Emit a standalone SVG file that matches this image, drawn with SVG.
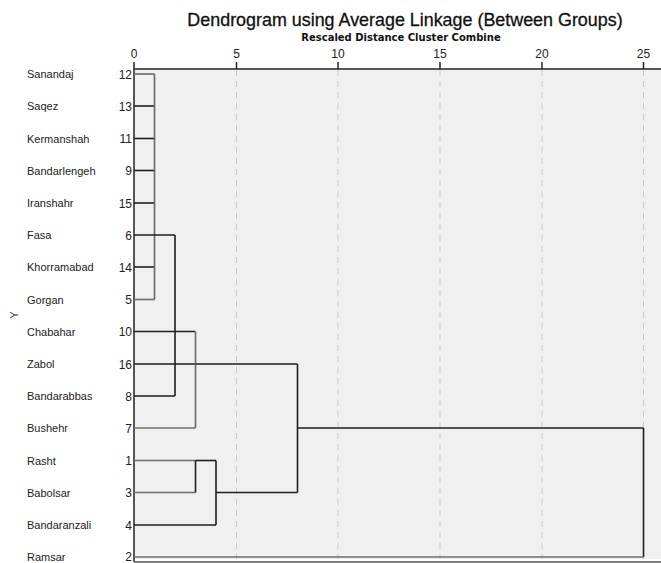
<svg xmlns="http://www.w3.org/2000/svg" width="661" height="563" viewBox="0 0 661 563">
<style>
.title{font-family:"Liberation Sans",Arial,sans-serif;font-size:17.9px;fill:#111;stroke:#111;stroke-width:0.3;text-anchor:middle}
.sub{font-family:"DejaVu Sans",Verdana,sans-serif;font-size:10px;font-weight:bold;fill:#111;text-anchor:middle}
.tick{font-family:"Liberation Sans",Arial,sans-serif;font-size:12px;fill:#222;text-anchor:middle}
.name{font-family:"Liberation Sans",Arial,sans-serif;font-size:11px;fill:#222}
.num{font-family:"Liberation Sans",Arial,sans-serif;font-size:12px;fill:#222;text-anchor:end}
.grid{stroke:#c8c8c8;stroke-width:1;stroke-dasharray:6 5;fill:none}
.axis{stroke:#222;stroke-width:1.5;fill:none}
.d{stroke:#1e1e1e;stroke-width:1.6;fill:none}
.g{stroke:#6e6e6e;stroke-width:1.7;fill:none}
</style>
<rect width="661" height="563" fill="#ffffff"/>
<rect x="134" y="69" width="527" height="490" fill="#f0f0f0"/>
<g id="title">
<text class="title" x="405" y="25.5">Dendrogram using Average Linkage (Between Groups)</text>
<text class="sub" x="401" y="41">Rescaled Distance Cluster Combine</text>
</g>
<g id="grid">
<line class="grid" x1="236.5" y1="70" x2="236.5" y2="559"/>
<line class="grid" x1="338" y1="70" x2="338" y2="559"/>
<line class="grid" x1="440" y1="70" x2="440" y2="559"/>
<line class="grid" x1="542" y1="70" x2="542" y2="559"/>
<line class="grid" x1="643.5" y1="70" x2="643.5" y2="559"/>
</g>
<g id="axis">
<line class="axis" x1="134" y1="69" x2="661" y2="69"/>
<line class="axis" x1="134" y1="62" x2="134" y2="562"/>
<line class="axis" x1="236.5" y1="62" x2="236.5" y2="69"/>
<line class="axis" x1="338" y1="62" x2="338" y2="69"/>
<line class="axis" x1="440" y1="62" x2="440" y2="69"/>
<line class="axis" x1="542" y1="62" x2="542" y2="69"/>
<line class="axis" x1="643.5" y1="62" x2="643.5" y2="69"/>
<line x1="134" y1="562" x2="661" y2="562" stroke="#555" stroke-width="1.5"/>
<text class="tick" x="134" y="58">0</text>
<text class="tick" x="236.5" y="58">5</text>
<text class="tick" x="338" y="58">10</text>
<text class="tick" x="440" y="58">15</text>
<text class="tick" x="542" y="58">20</text>
<text class="tick" x="643.5" y="58">25</text>
<text font-family="Liberation Sans, Arial, sans-serif" font-size="11" fill="#333" text-anchor="middle" transform="translate(18,315) rotate(-90)">Y</text>
</g>
<g id="leaves">
<g id="n12"><text class="name" x="27" y="78">Sanandaj</text><text class="num" x="132" y="78.5">12</text></g>
<g id="n13"><text class="name" x="27" y="110">Saqez</text><text class="num" x="132" y="110.5">13</text></g>
<g id="n11"><text class="name" x="27" y="142.5">Kermanshah</text><text class="num" x="132" y="143">11</text></g>
<g id="n9"><text class="name" x="27" y="174.5">Bandarlengeh</text><text class="num" x="132" y="175">9</text></g>
<g id="n15"><text class="name" x="27" y="207">Iranshahr</text><text class="num" x="132" y="207.5">15</text></g>
<g id="n6"><text class="name" x="27" y="239">Fasa</text><text class="num" x="132" y="239.5">6</text></g>
<g id="n14"><text class="name" x="27" y="271">Khorramabad</text><text class="num" x="132" y="271.5">14</text></g>
<g id="n5"><text class="name" x="27" y="303.5">Gorgan</text><text class="num" x="132" y="304">5</text></g>
<g id="n10"><text class="name" x="27" y="335.5">Chabahar</text><text class="num" x="132" y="336">10</text></g>
<g id="n16"><text class="name" x="27" y="368">Zabol</text><text class="num" x="132" y="368.5">16</text></g>
<g id="n8"><text class="name" x="27" y="400">Bandarabbas</text><text class="num" x="132" y="400.5">8</text></g>
<g id="n7"><text class="name" x="27" y="432">Bushehr</text><text class="num" x="132" y="432.5">7</text></g>
<g id="n1"><text class="name" x="27" y="464.5">Rasht</text><text class="num" x="132" y="465">1</text></g>
<g id="n3"><text class="name" x="27" y="496.5">Babolsar</text><text class="num" x="132" y="497">3</text></g>
<g id="n4"><text class="name" x="27" y="529">Bandaranzali</text><text class="num" x="132" y="529.5">4</text></g>
<g id="n2"><text class="name" x="27" y="561">Ramsar</text><text class="num" x="132" y="561">2</text></g>
</g>
<g id="connectors">
<line class="g" x1="134" y1="74" x2="154.5" y2="74"/>
<line class="d" x1="134" y1="106" x2="154.5" y2="106"/>
<line class="d" x1="134" y1="138.5" x2="154.5" y2="138.5"/>
<line class="d" x1="134" y1="170.5" x2="154.5" y2="170.5"/>
<line class="d" x1="134" y1="203" x2="154.5" y2="203"/>
<line class="d" x1="134" y1="267" x2="154.5" y2="267"/>
<line class="g" x1="134" y1="299.5" x2="154.5" y2="299.5"/>
<line class="g" x1="154.5" y1="74" x2="154.5" y2="299.5"/>
<line class="d" x1="134" y1="235" x2="175" y2="235"/>
<line class="d" x1="134" y1="396" x2="175" y2="396"/>
<line class="d" x1="175" y1="235" x2="175" y2="396"/>
<line class="d" x1="134" y1="331.5" x2="195.5" y2="331.5"/>
<line class="d" x1="134" y1="364" x2="195.5" y2="364"/>
<line class="g" x1="134" y1="428" x2="195.5" y2="428"/>
<line class="g" x1="195.5" y1="331.5" x2="195.5" y2="428"/>
<line class="d" x1="195.5" y1="364" x2="297.5" y2="364"/>
<line class="g" x1="134" y1="460.5" x2="195.5" y2="460.5"/>
<line class="g" x1="134" y1="492.5" x2="195.5" y2="492.5"/>
<line class="d" x1="195.5" y1="460.5" x2="195.5" y2="492.5"/>
<line class="d" x1="195.5" y1="460.5" x2="216" y2="460.5"/>
<line class="d" x1="134" y1="525" x2="216" y2="525"/>
<line class="d" x1="216" y1="460.5" x2="216" y2="525"/>
<line class="d" x1="216" y1="492.5" x2="297.5" y2="492.5"/>
<line class="d" x1="297.5" y1="364" x2="297.5" y2="492.5"/>
<line class="d" x1="297.5" y1="428" x2="643.5" y2="428"/>
<line class="d" x1="643.5" y1="428" x2="643.5" y2="557"/>
<line class="g" x1="134" y1="557" x2="643.5" y2="557"/>
</g>
</svg>
